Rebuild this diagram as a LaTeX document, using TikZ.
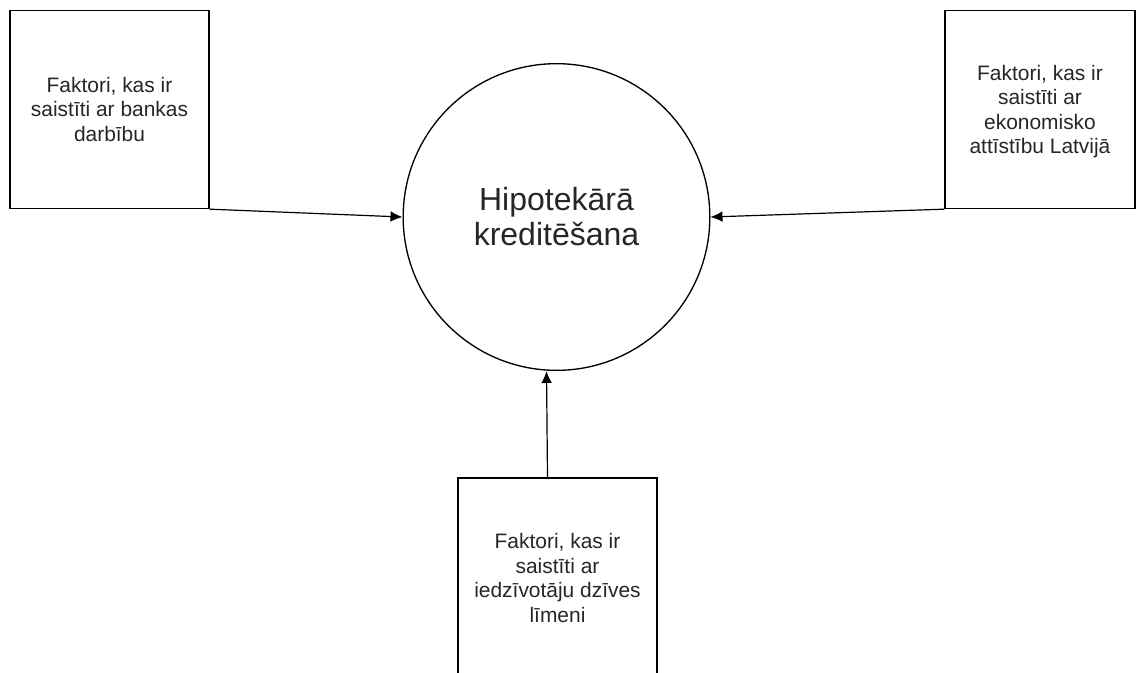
\documentclass[tikz,border=0pt]{standalone}
\usepackage{fontspec}
\setmainfont{Liberation Sans}
\usetikzlibrary{arrows.meta}
\tikzset{
	factor/.style={draw,line width=1pt,minimum height=148.5pt,inner sep=0pt,align=center,text=black!85,font=\fontsize{15.7}{18.4}\selectfont},
	topic/.style={draw,circle,line width=1pt,minimum size=230pt,inner sep=0pt,align=center,text=black!85,font=\fontsize{24}{26.3}\selectfont},
	flow/.style={line width=0.9pt,-{Latex[length=9pt,width=8pt]}}
}
\begin{document}
\begin{tikzpicture}[x=0.75pt,y=-0.75pt]
	\useasboundingbox (0,0) rectangle (1136,672);
	\clip (0,0) rectangle (1136,672);

	\node[topic] (Credit) at (556.5,217) {Hipotekārā\\kreditēšana};

	\node[factor,minimum width=149.25pt] (Bank)   at (109.5,109.5) {Faktori, kas ir\\saistīti ar bankas\\darbību};
    	\node[factor,minimum width=142.5pt,text depth=-8pt]  (Econ)   at (1040,109.5)  {Faktori, kas ir\\saistīti ar\\ekonomisko\\attīstību Latvijā};
    	\node[factor,minimum width=149.25pt,minimum height=150pt] (People) at (557.5,578) {Faktori, kas ir\\saistīti ar\\iedzīvotāju dzīves\\līmeni};

	\draw [flow] (Bank.south east) -- (Credit.west);
	\draw [flow] (Econ.south west) -- (Credit.east);
	\draw [flow] ([xshift=-7.5pt]People.north) -- ([xshift=-7.5pt]Credit.south);
	\end{tikzpicture}
\end{document}
